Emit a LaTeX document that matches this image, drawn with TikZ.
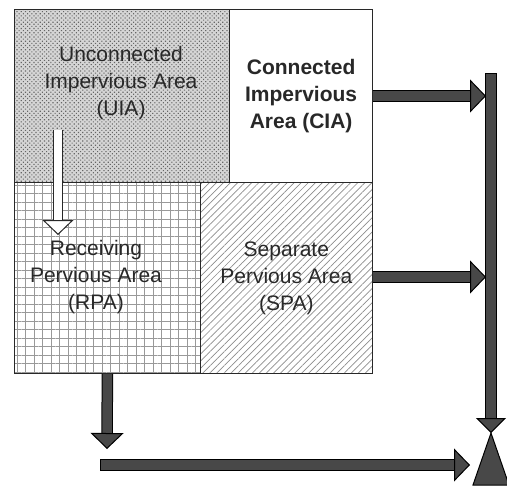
\documentclass[tikz,border=0pt]{standalone}
\usepackage{fontspec}
\setmainfont{Liberation Sans}
\usetikzlibrary{arrows.meta,patterns,patterns.meta}
\definecolor{barfill}{RGB}{72,72,72}
\definecolor{txt}{RGB}{40,40,40}
\begin{document}
\begin{tikzpicture}[x=1pt,y=-1pt,
area/.style={draw=txt,line width=1.3pt,inner sep=0pt,anchor=north west},
areatext/.style={text=txt,font=\fontsize{21}{27}\selectfont,align=center},
bar/.style={draw=black,line width=1pt,double=barfill,double distance=9.5pt,
  -{Triangle[width=33pt,length=16pt,fill=barfill]}},
hollow/.style={draw=txt,line width=1pt,double=white,double distance=8pt,
  -{Triangle[width=31pt,length=15pt,fill=white]}}]
\useasboundingbox (0,0) rectangle (507,491);
\node[area,minimum width=186pt,minimum height=191pt,pattern={Hatch[distance=8.5pt,line width=0.8pt]},pattern color=gray!80] (rpa) at (14,182) {};
\node[area,minimum width=172pt,minimum height=191pt,pattern={Lines[angle=45,distance=5pt,line width=0.7pt]},pattern color=gray!90] (spa) at (200,182) {};
\node[area,minimum width=215pt,minimum height=173pt,preaction={fill=gray!33},pattern={Dots[distance=3pt,radius=0.8pt,angle=45]},pattern color=black!60] (uia) at (14,9) {};
\node[area,minimum width=143pt,minimum height=173pt,fill=white] (cia) at (229,9) {};
\node[areatext] (uiatext) at (121,83) {Unconnected\\Impervious Area\\(UIA)};
\node[areatext,font=\fontsize{21}{27}\selectfont\bfseries] (ciatext) at (cia) {Connected\\Impervious\\Area (CIA)};
\node[areatext] (rpatext) at (96,277) {Receiving\\Pervious Area\\(RPA)};
\node[areatext] (spatext) at (spa) {Separate\\Pervious Area\\(SPA)};
\coordinate (uiaout) at (58,130);
\coordinate (rpain) at (58,235);
\coordinate (rpaout) at (107,449);
\coordinate (ciain) at (486,96);
\coordinate (spain) at (486,277);
\coordinate (top) at (491,78.5);
\coordinate (outlet) at (491,433);
\coordinate (runoff) at (105.5,465);
\coordinate (outletin) at (470,465);
\draw[hollow] (uiaout) -- (rpain);
\draw[bar] (rpa.south) -- (rpaout);
\draw[bar,line cap=rect,-{Triangle[width=30pt,length=15pt,fill=barfill]}] (top) -- (outlet);
\draw[bar] (cia.east |- ciain) -- (ciain);
\draw[bar] (spa.east |- spain) -- (spain);
\draw[bar,line cap=rect] (runoff) -- (outletin);
\filldraw[fill=barfill,draw=black,line width=1pt] (outlet) -- ++(18,52) -- ++(-36,0) -- cycle;
\end{tikzpicture}
\end{document}
